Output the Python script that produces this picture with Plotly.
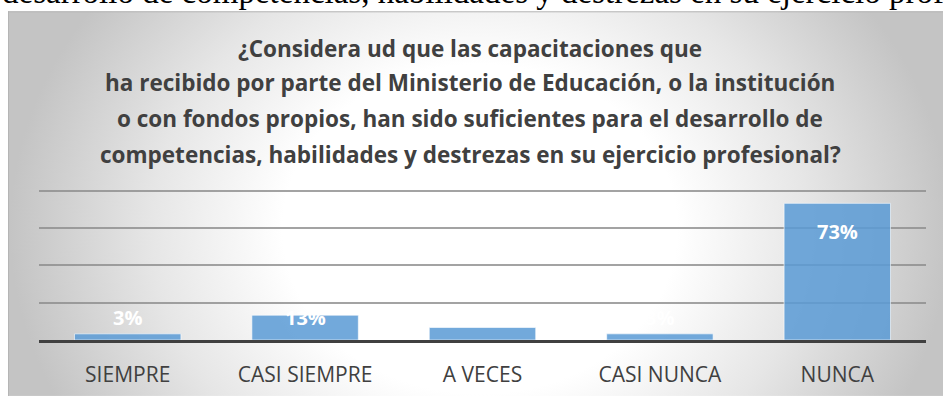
import base64
import plotly.graph_objects as go

# data (percent of respondents)
categories = ["SIEMPRE", "CASI SIEMPRE", "A VECES", "CASI NUNCA", "NUNCA"]
values = [3.3, 13.3, 6.7, 3.3, 73.3]
labels = ["3%", "13%", "7%", "3%", "73%"]

title_lines = [
    "¿Considera ud que las capacitaciones que",
    "ha recibido por parte del Ministerio de Educación, o la institución",
    "o con fondos propios, han sido suficientes para el desarrollo de",
    "competencias, habilidades y destrezas en su ejercicio profesional?",
]
page_text = "desarrollo de competencias, habilidades y destrezas en su ejercicio profesional"

# layout in pixels
W, H = 943, 400
Y_MAX = 81
PL, PR, PB = 39, 926, 343
PT = PB - Y_MAX * 1.9


def py(p):
    # pixel row -> paper y
    return (PB - p) / (PB - PT)


def px(p):
    # pixel column -> paper x
    return (p - PL) / (PR - PL)


# radial grey-to-white backdrop of the Excel chart area
svg = f"""<svg xmlns='http://www.w3.org/2000/svg' width='{W}' height='{H}' viewBox='0 0 {W} {H}' preserveAspectRatio='none'>
<defs><radialGradient id='g' gradientUnits='userSpaceOnUse' cx='480' cy='230' r='470'
 gradientTransform='translate(480 230) scale(1 0.85) translate(-480 -230)'>
<stop offset='0' stop-color='#ffffff'/><stop offset='0.42' stop-color='#ffffff'/>
<stop offset='0.7' stop-color='#e6e6e6'/><stop offset='1' stop-color='#c4c4c4'/></radialGradient></defs>
<rect x='8' y='8' width='{W - 8}' height='{H - 8}' fill='url(#g)'/>
<line x1='8' y1='8.5' x2='{W}' y2='8.5' stroke='#b4b4b4' stroke-width='1'/>
<line x1='8.5' y1='8' x2='8.5' y2='{H}' stroke='#b4b4b4' stroke-width='1'/>
</svg>"""
bg_src = "data:image/svg+xml;base64," + base64.b64encode(svg.encode()).decode()

fig = go.Figure(go.Bar(
    x=categories,
    y=values,
    marker=dict(color="rgba(91,155,213,0.86)",
                line=dict(color="rgba(255,255,255,0.6)", width=1)),
    width=0.6,
    hoverinfo="skip",
))

# data labels (white, like the Excel default style)
for cat, val, lab in zip(categories, values, labels):
    if val > 20:
        y, shift = val, -28
    else:
        y, shift = 0, 23
    fig.add_annotation(x=cat, y=y, yshift=shift, text=f"<b>{lab}</b>",
                       showarrow=False, yanchor="middle",
                       font=dict(family="Open Sans", size=20, color="white"))

# title lines
title_y = [46, 81, 117, 154]
for line, ty in zip(title_lines, title_y):
    fig.add_annotation(xref="paper", yref="paper", x=px(470), y=py(ty),
                       text=f"<b>{line}</b>", showarrow=False,
                       xanchor="center", yanchor="middle",
                       font=dict(family="Open Sans", size=22.5, color="#404040"))

# document text cut off above the chart
fig.add_annotation(xref="paper", yref="paper", x=px(0), y=py(9),
                   text=page_text, showarrow=False, xanchor="left", yanchor="bottom",
                   font=dict(family="Liberation Serif", size=33, color="black"))

fig.add_layout_image(dict(
    source=bg_src, xref="paper", yref="paper",
    x=px(0), y=py(0), sizex=px(W) - px(0), sizey=py(0) - py(H),
    xanchor="left", yanchor="top", sizing="stretch", layer="below",
))

fig.update_layout(
    width=W, height=H,
    margin=dict(l=PL, r=W - PR, t=PT, b=H - PB),
    paper_bgcolor="white",
    plot_bgcolor="rgba(0,0,0,0)",
    showlegend=False,
    bargap=0.4,
)
fig.update_xaxes(
    showline=True, linecolor="#404040", linewidth=3,
    ticks="outside", ticklen=14, tickcolor="rgba(0,0,0,0)",
    tickfont=dict(family="Open Sans", size=21, color="#404040"),
    showgrid=False,
)
fig.update_yaxes(
    range=[0, Y_MAX], dtick=20, showticklabels=False,
    showgrid=True, gridcolor="rgba(140,140,140,0.8)", gridwidth=2,
    zeroline=False,
)

fig.write_html("out.html", config={"displayModeBar": False},
               post_script="document.body.style.margin='0';")
